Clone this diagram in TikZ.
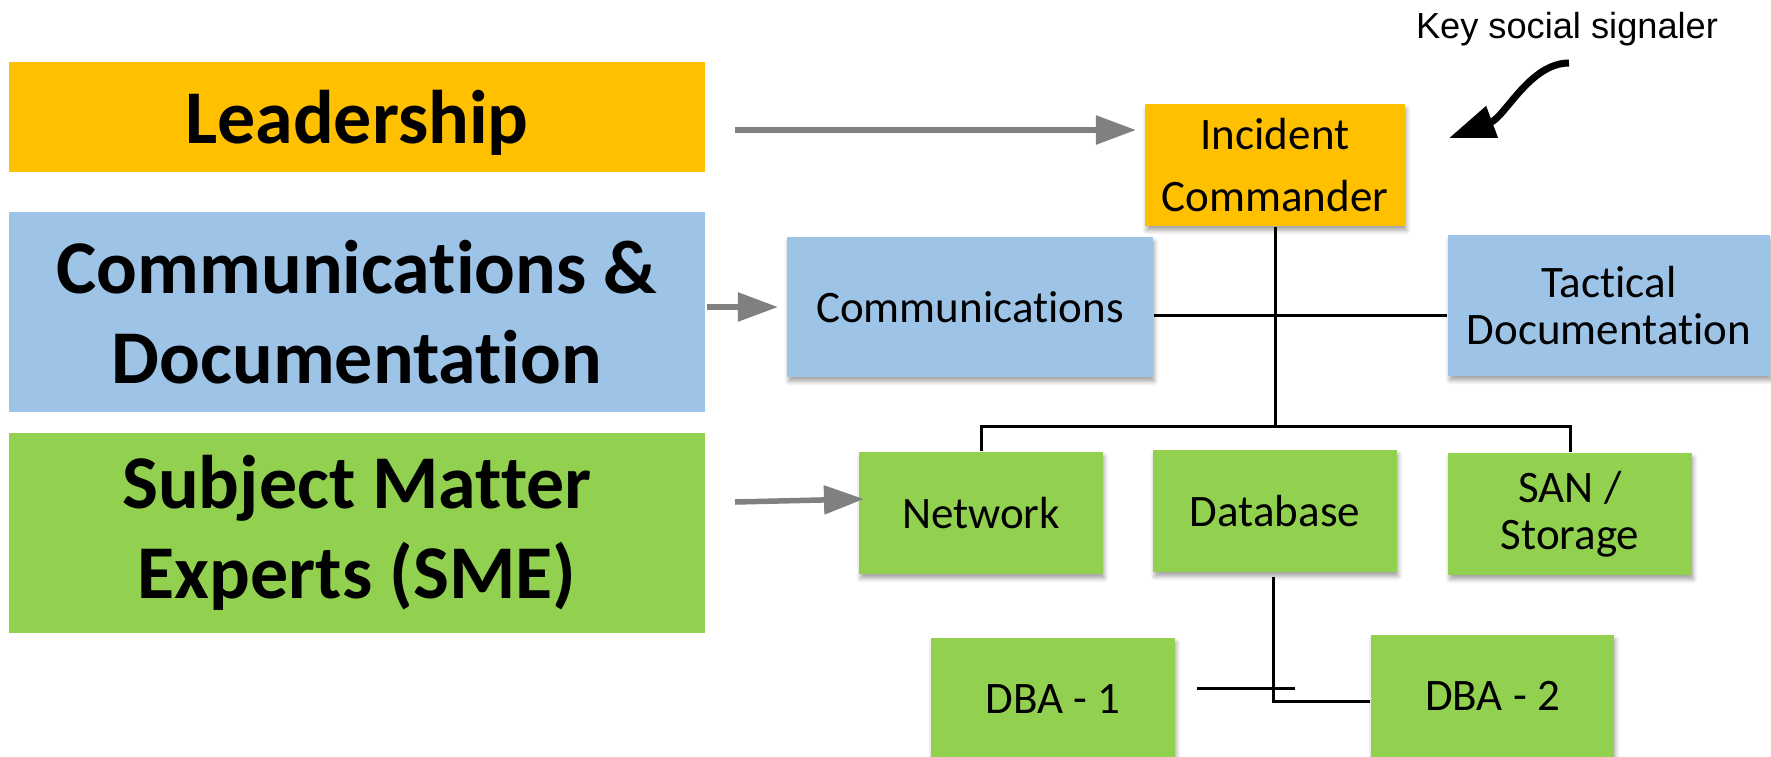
\documentclass[tikz,border=0pt]{standalone}
\usepackage{fontspec}
\setmainfont{Carlito}[Ligatures={NoCommon}]
\newfontfamily\keyfont{Liberation Sans}
\usetikzlibrary{arrows.meta,shadows,shadows.blur,calc}
\definecolor{leadc}{HTML}{FFC000}
\definecolor{bluec}{HTML}{9DC3E6}
\definecolor{greenc}{HTML}{92D050}
\definecolor{arrowgray}{HTML}{808080}
\begin{document}
\begin{tikzpicture}[x=0.01cm,y=-0.01cm,
  bigbox/.style={draw=none, inner sep=0pt, align=center, minimum width=6.96cm,
    font=\bfseries\fontsize{21.6}{25.6}\selectfont},
  smallbox/.style={draw=none, inner sep=0pt, align=center,
    font=\fontsize{12.8}{13.4}\selectfont,
    blur shadow={shadow xshift=0.015cm, shadow yshift=-0.045cm, shadow blur radius=0.04cm,
      shadow blur steps=6, shadow opacity=35}},
  garrow/.style={draw=arrowgray, line width=0.055cm, -{Triangle[length=0.4cm,width=0.28cm]}},
  conn/.style={draw=black, line width=0.03cm},
]
\useasboundingbox (0,0) rectangle (1771,757);

% left category boxes
\node[bigbox, fill=leadc, minimum height=1.10cm, text depth=0pt] (lead) at (357,117) {Leadership};
\node[bigbox, fill=bluec, minimum height=2.00cm] (comdoc) at (357,312) {Communications \&\\Documentation};
\node[bigbox, fill=greenc, minimum height=2.00cm] (sme) at (357,533) {Subject Matter\\Experts (SME)};

% org chart boxes
\node[smallbox, fill=leadc, minimum width=2.60cm, minimum height=1.22cm,
  font=\fontsize{12.8}{17.4}\selectfont] (ic) at (1275,165) {Incident\\Commander};
\node[smallbox, fill=bluec, minimum width=3.66cm, minimum height=1.40cm] (comm) at (970,307) {Communications};
\node[smallbox, fill=bluec, minimum width=3.22cm, minimum height=1.41cm] (tact) at (1609,305.5) {Tactical\\Documentation};
\node[smallbox, fill=greenc, minimum width=2.44cm, minimum height=1.22cm] (net) at (981,513) {Network};
\node[smallbox, fill=greenc, minimum width=2.44cm, minimum height=1.22cm] (db) at (1275,511) {Database};
\node[smallbox, fill=greenc, minimum width=2.44cm, minimum height=1.22cm] (san) at (1570,514) {SAN /\\Storage};
\node[smallbox, fill=greenc, minimum width=2.44cm, minimum height=1.22cm] (dba1) at (1053,699) {DBA - 1};
\node[smallbox, fill=greenc, minimum width=2.43cm, minimum height=1.22cm] (dba2) at (1492.5,696) {DBA - 2};

% key social signaler
\node[anchor=base, inner sep=0pt, font=\keyfont\fontsize{10.3}{12}\selectfont] (key) at (1567,38) {Key social signaler};
\coordinate (ksA) at (1569,63);
\coordinate (ksT) at (1449,138);
\draw[line width=0.07cm, -{Triangle[length=0.46cm,width=0.32cm]}] (ksA) .. controls (1530,63) and (1505,117) .. (ksT);

% gray arrows
\coordinate (la) at (735,130);
\coordinate (lb) at (1136,130);
\coordinate (ca) at (707,307);
\coordinate (cb) at (778,307);
\coordinate (sa) at (735,502);
\coordinate (sb) at (864,499);
\draw[garrow] (la) -- (lb);
\draw[garrow] (ca) -- (cb);
\draw[garrow] (sa) -- (sb);

% connectors
\coordinate (bus) at (1275,426);
\coordinate (midline) at (1275,315);
\draw[conn] (ic.south) -- (bus);
\draw[conn] (comm.east |- midline) -- (tact.west |- midline);
\draw[conn] (net.north) |- (bus) -| (san.north);
\coordinate (dbtop) at (1273,577);
\coordinate (dbcorner) at (1273,701);
\draw[conn] (dbtop) -- (dbcorner) -- (dba2.west |- dbcorner);
\coordinate (stA) at (1197,688);
\coordinate (stB) at (1295,688);
\draw[conn] (stA) -- (stB);
\end{tikzpicture}
\end{document}
